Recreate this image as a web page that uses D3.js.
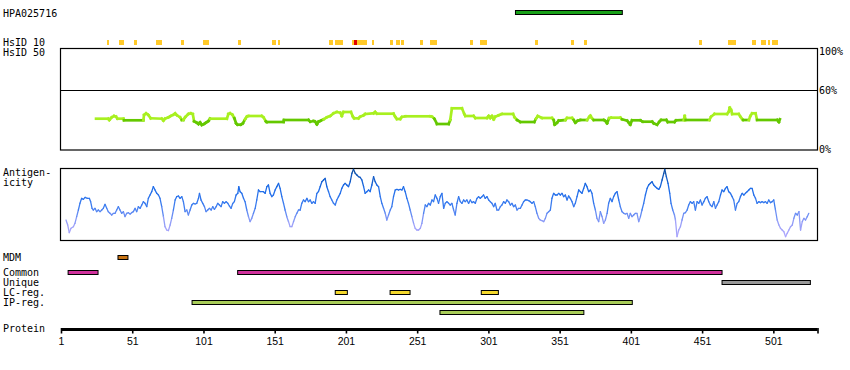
<!DOCTYPE html>
<html><head><meta charset="utf-8">
<script src="https://cdn.jsdelivr.net/npm/d3@7"></script>
<style>body{margin:0;background:#fff}svg{display:block}</style>
</head><body>
<script>
// ---------- data ----------
const proteinLength = 531;
const axisTicks = [1, 51, 101, 151, 201, 251, 301, 351, 401, 451, 501];
const antibodyName = "HPA025716";
const antibodyRegion = [320, 395];

// HsID 10 hits: [start, end, level] (level 1 = yellow, 2 = red)
const hsid10 = [[33,35,1],[42,45,1],[52,54,1],[68,72,1],[85,87,1],[101,105,1],[125,127,1],[149,152,1],[153,155,1],
  [189,192,1],[193,195,1],[195,199,1],[205,216,1],[207,209,2],[219,221,1],[232,234,1],[236,239,1],[240,242,1],[253,255,1],
  [260,265,1],[288,290,1],[295,297,1],[297,300,1],[334,336,1],[359,361,1],[368,370,1],[449,451,1],[469,475,1],
  [486,489,1],[492,496,1],[497,499,1],[500,502,1],[502,504,1]];

const identityTicks = [100, 60, 0];
// identity (%) along residues
const identity = [[25.6,31.3],[34.2,31.3],[34.9,30.0],[36.6,32.7],[38.2,34.0],[39.6,33.3],[40.6,31.3],[44.8,31.3],[45.2,29.7],[58.8,29.7],
[59.3,35.0],[60.7,36.7],[62.3,35.0],[64.0,31.7],[71.7,31.3],[72.9,29.3],[74.0,31.3],[76.4,32.7],[78.0,34.0],[79.9,35.3],[81.1,36.7],
[82.2,35.0],[84.6,32.7],[85.8,30.0],[86.9,30.0],[88.1,32.7],[90.4,36.0],[92.1,36.7],[93.5,36.0],[94.4,28.7],[96.3,27.3],[97.5,26.0],
[98.6,27.7],[99.8,25.0],[101.4,26.0],[102.8,27.3],[104.5,29.0],[105.6,31.3],[117.4,31.3],[118.5,36.0],[119.7,36.7],[121.3,35.3],
[122.7,31.7],[123.9,26.7],[124.9,25.3],[127.2,25.3],[128.6,26.7],[130.2,30.7],[131.4,33.3],[132.6,34.0],[141.9,34.0],[143.1,32.7],
[144.8,28.7],[145.5,28.0],[157.2,28.0],[157.5,30.0],[174.7,30.0],[175.9,28.3],[178.2,29.0],[179.4,28.3],[180.6,25.7],[181.7,28.3],
[182.9,29.0],[185.3,30.7],[187.6,32.7],[189.9,34.0],[192.3,36.7],[194.6,38.0],[197.0,37.3],[198.1,34.0],[199.3,38.0],[204.5,38.0],
[205.9,33.3],[206.8,31.7],[209.8,31.7],[211.0,33.3],[213.4,34.7],[214.5,36.0],[220.4,36.7],[221.5,38.0],[222.7,36.3],[234.4,36.3],
[235.6,33.3],[236.8,31.0],[239.1,31.0],[240.3,33.0],[242.6,33.7],[260.2,33.7],[261.4,33.3],[263.0,31.3],[264.9,26.0],[273.1,26.0],
[274.2,30.0],[275.4,41.7],[282.4,41.7],[284.1,36.0],[284.8,34.0],[290.6,34.0],[291.8,32.0],[300.0,32.0],[301.2,34.0],[302.3,32.0],
[303.5,34.0],[304.7,30.6],[305.8,33.3],[308.2,34.7],[310.5,36.0],[318.3,36.0],[319.4,32.7],[321.1,30.0],[323.4,28.0],[333.2,28.0],
[334.4,31.3],[335.6,34.0],[338.6,32.0],[345.6,32.0],[346.8,30.0],[347.5,25.3],[349.2,27.3],[350.3,29.3],[355.0,30.0],[356.2,32.0],
[359.7,32.0],[360.9,30.0],[362.0,27.3],[363.7,29.3],[365.5,30.0],[370.2,30.0],[371.9,33.3],[372.6,34.3],[373.7,31.7],[374.9,30.0],
[381.9,30.0],[383.1,29.0],[384.3,26.7],[385.7,31.7],[387.1,32.3],[393.6,32.3],[394.8,30.7],[398.3,29.3],[399.5,27.3],[400.6,25.3],
[401.8,29.7],[407.7,29.7],[409.3,28.3],[415.9,28.3],[417.0,26.7],[419.4,25.3],[421.0,28.3],[422.2,30.0],[425.9,30.0],[426.9,28.0],
[431.6,28.0],[432.7,29.7],[438.1,30.0],[438.8,34.0],[439.5,30.0],[456.1,30.0],[457.3,33.3],[459.7,36.0],[468.5,36.0],[469.7,38.3],
[470.4,42.3],[471.4,40.0],[472.1,36.0],[476.7,36.0],[477.9,33.3],[479.3,30.7],[479.8,30.0],[483.8,30.0],[484.9,34.0],[486.1,36.7],
[488.5,36.7],[489.6,30.0],[503.7,30.0],[504.9,28.0],[505.6,30.7]];
const identityThreshold = 30.3;

// antigenicity score along residues (0 = low, 216 = high)
const antigenicity = [[4.5,60],[5.7,45],[6.8,22],[8.0,35],[9.7,40],[10.8,50],[12.0,70],[13.2,90],[14.3,110],[15.5,125],[16.7,122],
[17.9,128],[19.5,125],[20.9,125],[21.8,115],[22.8,95],[23.7,90],[24.9,95],[26.0,85],[27.2,90],[28.4,85],[29.6,90],[30.7,95],[31.9,107],
[33.1,95],[34.2,85],[35.4,80],[36.6,75],[37.8,80],[38.9,80],[40.1,90],[41.3,100],[42.4,90],[43.6,80],[44.8,85],[45.9,70],[47.1,80],
[48.3,82],[49.5,78],[50.6,82],[51.8,85],[53.0,95],[54.1,85],[55.3,100],[56.5,95],[57.7,105],[58.8,115],[60.0,110],[61.2,100],[62.3,125],
[63.5,135],[64.7,145],[65.8,160],[67.0,150],[68.2,140],[69.4,135],[70.5,125],[71.7,100],[72.9,70],[74.0,40],[75.2,30],[76.4,28],
[77.6,45],[78.7,65],[79.9,90],[81.1,120],[82.2,130],[83.4,132],[84.6,125],[85.8,130],[86.9,115],[88.1,85],[89.3,90],[90.4,75],
[91.6,90],[92.8,105],[94.0,110],[95.1,108],[96.3,110],[97.5,125],[98.2,140],[99.3,120],[100.5,110],[101.7,100],[102.8,85],[104.0,90],
[105.2,95],[106.4,90],[107.5,100],[108.7,92],[109.9,100],[111.0,110],[112.2,105],[113.4,100],[114.5,115],[115.7,110],[116.9,115],
[118.1,110],[119.2,102],[120.4,95],[121.6,110],[122.7,115],[123.9,135],[125.1,140],[125.8,160],[126.7,145],[127.9,140],[129.1,125],
[130.2,115],[131.4,90],[132.6,70],[133.7,55],[134.9,65],[136.1,80],[137.3,95],[138.4,120],[139.6,150],[140.8,145],[143.1,145],
[144.3,140],[145.5,160],[146.6,165],[147.8,140],[149.0,130],[150.1,135],[151.3,150],[152.5,160],[153.7,170],[154.8,155],[156.0,130],
[157.2,110],[158.3,90],[159.5,70],[160.7,55],[161.8,40],[163.0,40],[164.2,55],[165.4,70],[166.5,80],[167.7,90],[168.9,90],[170.0,110],
[171.2,120],[172.4,115],[173.6,125],[174.7,115],[175.9,120],[177.1,110],[178.2,115],[179.4,110],[180.6,140],[181.7,145],[182.9,160],
[184.1,175],[185.3,180],[186.4,185],[187.6,160],[188.8,145],[189.9,130],[191.1,120],[192.3,110],[193.5,105],[194.6,120],[195.8,130],
[197.0,140],[198.1,155],[199.3,165],[200.5,170],[201.6,165],[202.8,160],[204.0,175],[205.2,200],[206.3,212],[207.5,200],[208.7,195],
[209.8,190],[211.0,188],[212.2,180],[213.4,160],[214.5,140],[215.7,145],[216.9,150],[218.0,145],[219.2,165],[220.4,190],[221.5,175],
[222.7,165],[223.9,160],[225.1,130],[226.2,110],[227.4,95],[228.6,80],[229.7,60],[230.9,75],[232.1,90],[233.2,100],[234.4,130],
[235.6,150],[236.8,152],[237.9,150],[239.1,152],[240.3,150],[241.4,160],[242.6,145],[243.8,125],[244.9,110],[246.1,90],[247.3,70],
[248.5,50],[249.6,35],[250.8,30],[252.0,30],
[253.2,35],[254.3,50],[255.5,80],[256.7,105],[257.8,100],[259.0,110],[260.2,105],[261.4,120],[262.5,115],[263.7,135],[264.9,125],
[266.0,110],[267.2,130],[268.4,140],[269.6,95],[270.7,110],[271.9,115],[273.1,110],[274.2,105],[275.4,110],[276.6,90],[277.7,75],
[278.9,110],[280.1,130],[281.3,115],[282.4,110],[283.6,120],[284.8,115],[285.9,120],[287.1,110],[288.3,120],[289.5,112],[290.6,115],
[291.8,110],[293.0,125],[294.1,130],[295.3,125],[296.5,130],[297.6,135],[298.8,125],[300.0,130],[301.2,120],[302.3,115],[303.5,110],
[304.7,100],[305.8,110],[307.0,90],[308.2,90],[309.4,100],[310.5,105],[311.7,115],[312.9,110],[314.0,120],[315.2,115],[316.4,105],
[317.5,110],[318.7,100],[319.9,105],[321.1,90],[322.2,95],[323.4,95],[324.6,105],[325.7,115],[326.9,120],[328.1,120],[329.3,118],
[330.4,115],[331.6,110],[332.8,115],[333.9,100],[335.1,80],[336.3,65],[337.4,60],[338.6,58],[339.8,55],[341.0,65],[342.1,80],
[343.3,85],[344.5,90],[345.6,125],[346.8,140],[348.0,135],[349.2,135],[350.3,140],[351.5,135],[352.7,140],[353.8,130],[355.0,135],
[356.2,120],[357.3,132],[358.5,125],[359.7,115],[360.9,100],[362.0,110],[363.2,130],[364.4,150],[365.5,145],[366.7,140],[367.9,155],
[369.0,170],[370.2,160],[371.4,145],[372.6,150],[373.7,140],[374.9,110],[376.1,90],[377.2,65],[378.4,55],[379.6,85],[380.8,70],
[381.9,50],[383.1,60],[384.3,80],[385.4,110],[386.6,125],[387.8,115],[388.9,130],[390.1,140],[391.3,145],[392.5,120],[393.6,100],
[394.8,85],[396.0,80],[397.1,78],[398.3,80],[399.5,65],[400.6,80],[401.8,70],[403.0,75],[404.2,80],[405.3,80],[406.5,55],[407.7,70],
[408.8,90],[410.0,110],[411.2,135],[412.4,155],[413.5,165],[414.7,170],[415.9,175],[417.0,165],[418.2,160],[419.4,155],[420.6,152],
[421.7,160],[422.9,180],[424.1,200],[424.8,212],[425.9,190],[427.1,170],[428.3,140],[429.2,110],[430.4,90],[431.6,75],[432.3,60],
[433.4,10],[434.6,30],[435.8,40],[436.9,60],[438.1,80],[439.3,82],[440.5,90],[441.6,105],[442.8,115],[444.0,110],[445.1,115],[446.3,90],
[447.5,115],[448.7,110],[449.8,120],[451.0,105],[452.2,115],[453.3,125],[454.5,130],[455.7,115],[456.8,105],[458.0,100],[459.2,115],
[460.4,95],[461.5,105],[462.7,115],[463.9,135],[465.0,150],[466.2,145],[467.4,155],[468.5,160],[469.7,145],[470.9,140],[472.1,130],
[473.2,120],[474.4,90],[475.6,110],[476.7,115],[477.9,130],[479.1,140],[480.3,135],[481.4,140],[482.6,145],[483.8,150],[484.9,155],
[486.1,155],[487.3,135],[488.5,125],[489.6,110],[490.8,115],[492.0,112],[493.1,115],[494.3,112],[495.5,115],[496.6,110],[497.8,120],
[499.0,112],[500.2,115],[501.3,120],[502.5,90],[503.7,60],[504.9,45],[506.0,35],[507.2,30],[508.4,25],[509.6,10],[510.7,20],
[511.9,30],[513.1,40],[514.3,45],[515.4,65],[516.6,80],[517.8,75],[519.0,85],[520.1,30],[521.3,55],[522.4,65],[523.6,60],[524.8,70],
[525.9,80]];

// features: [row, start, end, lane]
const featureRows = ["MDM", "Common", "Unique", "LC-reg.", "IP-reg."];
const features = [["MDM",41,48,0],["Common",6,27,0],["Common",125,465,0],["Unique",465,527,0],
  ["LC-reg.",193.5,202,0],["LC-reg.",232,246,0],["LC-reg.",296,308,0],["IP-reg.",93,402,0],["IP-reg.",267,368,1]];

// ---------- styles ----------
const featureColor = {"MDM":"#c87414","Common":"#d0309c","Unique":"#999999","LC-reg.":"#f4d82c","IP-reg.":"#a8cc58"};
const monoFont = "'DejaVu Sans Mono', monospace";

const W = 850, H = 370;
const svg = d3.select("body").append("svg").attr("width", W).attr("height", H);

const x = d3.scaleLinear().domain([1, proteinLength + 1]).range([61, 817.5]);
const yId = d3.scaleLinear().domain([0, 100]).range([150, 50]);
const yAg = d3.scaleLinear().domain([0, 216]).range([240, 168]);

function label(txt, xx, yy, anchor) {
  svg.append("text").attr("x", xx).attr("y", yy).attr("font-family", monoFont).attr("font-size", "10px")
    .attr("text-anchor", anchor || "start").attr("fill", "#000").text(txt);
}

// antibody bar
label(antibodyName, 3, 16.5);
svg.append("rect").attr("x", x(antibodyRegion[0])).attr("y", 10.5)
  .attr("width", x(antibodyRegion[1]) - x(antibodyRegion[0])).attr("height", 4)
  .attr("fill", "#18a018").attr("stroke", "#000").attr("stroke-width", 1);

// HsID labels
label("HsID 10", 3, 46);
label("HsID 50", 3, 56);
svg.append("g").selectAll("rect").data(hsid10).join("rect")
  .attr("x", d => x(d[0])).attr("y", 40).attr("width", d => x(d[1]) - x(d[0])).attr("height", 5)
  .attr("fill", d => d[2] === 2 ? "#e00000" : "#ffc928").attr("shape-rendering", "crispEdges");

// identity box
svg.append("rect").attr("x", 60.5).attr("y", 48.5).attr("width", 757).attr("height", 101.5)
  .attr("fill", "none").attr("stroke", "#000").attr("stroke-width", 1.2);
svg.append("line").attr("x1", 60.5).attr("x2", 817.5).attr("y1", yId(60) + 0.5).attr("y2", yId(60) + 0.5)
  .attr("stroke", "#000").attr("stroke-width", 1.2);
const pctY = {100: 55, 60: 93.5, 0: 152.7};
identityTicks.forEach(t => label(t + "%", 819, pctY[t]));

const idSegs = d3.pairs(identity);
svg.append("g").selectAll("line").data(idSegs).join("line")
  .attr("x1", d => x(d[0][0])).attr("y1", d => yId(d[0][1]))
  .attr("x2", d => x(d[1][0])).attr("y2", d => yId(d[1][1]))
  .attr("stroke", d => ((d[0][1] + d[1][1]) / 2 >= identityThreshold) ? "#a8f020" : "#64c800")
  .attr("stroke-width", 2.7).attr("stroke-linecap", "square");

// antigenicity box
label("Antigen-", 3, 176);
label("icity", 3, 186);
svg.append("rect").attr("x", 60.5).attr("y", 168.5).attr("width", 757).attr("height", 72)
  .attr("fill", "none").attr("stroke", "#000").attr("stroke-width", 1.2);
const agColor = d3.scaleLinear().domain([0, 50, 100, 160, 212])
  .range(["#b4a8ff", "#9aa0f8", "#3f7ef0", "#1a6ae8", "#0a4a9c"]).clamp(true);
svg.append("g").selectAll("line").data(d3.pairs(antigenicity)).join("line")
  .attr("x1", d => x(d[0][0])).attr("y1", d => yAg(d[0][1]))
  .attr("x2", d => x(d[1][0])).attr("y2", d => yAg(d[1][1]))
  .attr("stroke", d => agColor((d[0][1] + d[1][1]) / 2))
  .attr("stroke-width", 1.3).attr("stroke-linecap", "round");

// feature rows
const rowY = {"MDM": 255.5, "Common": 270.5, "Unique": 280.5, "LC-reg.": 290.5, "IP-reg.": 300.5};
const rowLabelY = {"MDM": 261, "Common": 275.5, "Unique": 285.5, "LC-reg.": 295.5, "IP-reg.": 305.5};
featureRows.forEach(r => label(r, 3, rowLabelY[r]));
svg.append("g").selectAll("rect").data(features).join("rect")
  .attr("x", d => x(d[1])).attr("y", d => rowY[d[0]] + d[3] * 10)
  .attr("width", d => x(d[2]) - x(d[1])).attr("height", 4)
  .attr("fill", d => featureColor[d[0]]).attr("stroke", "#000").attr("stroke-width", 1);

// protein axis
label("Protein", 3, 332);
svg.append("rect").attr("x", x(1)).attr("y", 328).attr("width", x(proteinLength + 1) - x(1)).attr("height", 3).attr("fill", "#000");
const axis = d3.axisBottom(x).tickValues(axisTicks.concat([proteinLength + 1]))
  .tickFormat(d => axisTicks.includes(d) ? d : "").tickSize(5.5).tickPadding(4.5);
const gAx = svg.append("g").attr("transform", "translate(0,328)").call(axis);
gAx.select(".domain").remove();
gAx.selectAll(".tick line").attr("stroke", "#000").attr("stroke-width", 1.6);
gAx.selectAll(".tick text").attr("font-family", "'Liberation Sans', Arial, sans-serif").attr("font-size", "10.5px").attr("fill", "#000");
</script>
</body></html>
